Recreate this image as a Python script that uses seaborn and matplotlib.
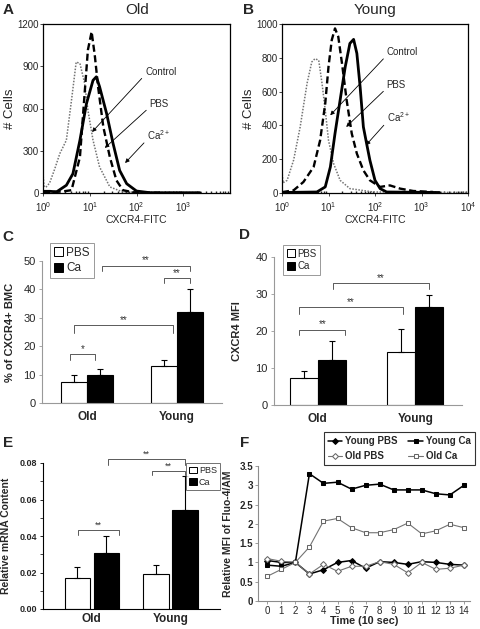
import matplotlib
matplotlib.use("Agg")
import matplotlib.pyplot as plt
from matplotlib.patches import Patch
import seaborn as sns
import numpy as np
import pandas as pd

sns.set_theme(style="ticks")
plt.rcParams['font.family'] = ['Liberation Sans', 'DejaVu Sans']
plt.rcParams['mathtext.default'] = 'regular'

# ---- A / B: flow histograms (log10 CXCR4-FITC intensity, # cells) ----
old_ctrl_log = [0.0, 0.02, 0.06, 0.14, 0.25, 0.36, 0.5, 0.61, 0.71, 0.79, 0.89, 0.96, 1.07, 1.21, 1.43, 1.71, 2.2, 3.4]
old_ctrl_cnt = [140, 50, 40, 70, 170, 280, 375, 660, 930, 920, 780, 590, 375, 185, 43, 7, 4, 4]
old_pbs_log = [0.0, 0.4, 0.61, 0.79, 0.89, 0.96, 1.04, 1.11, 1.18, 1.29, 1.43, 1.57, 1.71, 1.93, 2.5]
old_pbs_cnt = [5, 10, 20, 255, 705, 1015, 1145, 970, 750, 470, 255, 90, 20, 5, 2]
old_ca_log = [0.0, 0.15, 0.29, 0.5, 0.64, 0.79, 0.93, 1.07, 1.14, 1.21, 1.36, 1.5, 1.64, 1.79, 2.0, 2.29, 3.36]
old_ca_cnt = [12, 12, 8, 55, 137, 375, 635, 800, 825, 755, 565, 350, 160, 66, 14, 2, 2]

young_ctrl_log = [0.0, 0.02, 0.11, 0.25, 0.39, 0.54, 0.64, 0.71, 0.79, 0.86, 0.93, 1.0, 1.11, 1.25, 1.46, 1.96, 3.1, 4.0]
young_ctrl_cnt = [130, 60, 75, 195, 390, 650, 775, 795, 785, 650, 490, 312, 174, 75, 26, 6, 4, 3]
young_pbs_log = [0.0, 0.25, 0.46, 0.68, 0.82, 0.93, 1.0, 1.07, 1.14, 1.21, 1.29, 1.39, 1.5, 1.61, 1.75, 1.89, 2.11, 2.32, 2.54, 2.82, 3.25]
young_pbs_cnt = [5, 16, 65, 154, 312, 530, 747, 905, 974, 925, 767, 550, 352, 233, 134, 75, 36, 45, 26, 12, 6]
young_ca_log = [0.0, 0.75, 0.93, 1.04, 1.14, 1.25, 1.36, 1.46, 1.54, 1.61, 1.68, 1.75, 1.82, 1.89, 2.0, 2.11, 2.25, 3.39]
young_ca_cnt = [3, 6, 36, 154, 352, 550, 747, 885, 909, 826, 628, 391, 292, 194, 75, 26, 6, 3]

# ---- C / D / E: bar charts ----
groups = ['Old', 'Young']
c_pbs = [7.5, 13.0]
c_ca = [9.8, 32.0]
c_pbs_sd = [2.5, 2.2]
c_ca_sd = [2.2, 8.0]

d_pbs = [7.3, 14.3]
d_ca = [12.1, 26.4]
d_pbs_sd = [1.9, 6.2]
d_ca_sd = [5.2, 3.4]

e_pbs = [0.0168, 0.019]
e_ca = [0.0308, 0.0545]
e_pbs_sd = [0.006, 0.0053]
e_ca_sd = [0.0092, 0.0182]

# ---- F: calcium time course ----
time_pts = list(range(15))
young_pbs_f = [1.05, 1.0, 1.0, 0.70, 0.81, 1.0, 1.05, 0.85, 1.02, 1.0, 0.95, 1.02, 1.0, 0.95, 0.93]
young_ca_f = [0.93, 0.9, 1.0, 3.3, 3.05, 3.08, 2.9, 3.0, 3.03, 2.88, 2.88, 2.88, 2.78, 2.75, 3.0]
old_pbs_f = [1.1, 1.03, 1.0, 0.70, 0.95, 0.77, 0.90, 0.90, 1.02, 0.95, 0.73, 1.0, 0.82, 0.85, 0.93]
old_ca_f = [0.64, 0.82, 1.0, 1.4, 2.07, 2.14, 1.9, 1.77, 1.77, 1.85, 2.02, 1.74, 1.82, 1.99, 1.9]

fig = plt.figure(figsize=(4.8, 6.29), dpi=100)
W, H = 480, 629


def add_ax(left, top, right, bottom):
    # pixel box -> figure fraction
    return fig.add_axes([left / W, 1 - bottom / H, (right - left) / W, (bottom - top) / H])


def flow_panel(ax, curves, ymax, ystep, xticks, notes):
    for logs, cnts, style in curves:
        sns.lineplot(x=10 ** np.array(logs), y=cnts, ax=ax, sort=False, **style)
    ax.set_xscale('log')
    ax.set_xlim(1, 1e4)
    ax.set_ylim(0, ymax)
    ax.set_xticks(xticks)
    ax.set_yticks(np.arange(0, ymax + 1, ystep))
    ax.tick_params(labelsize=7, length=2, width=0.6, pad=1)
    ax.tick_params(axis='x', pad=3)
    ax.tick_params(axis='x', which='minor', length=1.5, direction='in')
    for sp in ax.spines.values():
        sp.set_linewidth(0.9)
        sp.set_color('black')
    ax.set_xlabel('CXCR4-FITC', fontsize=7.5, labelpad=1)
    ax.set_ylabel('# Cells', fontsize=9.5, labelpad=1)
    for txt, tx, ty, px, py in notes:
        ax.annotate(txt, xy=(px, py), xytext=(tx, ty), fontsize=7, ha='left', va='center',
                    arrowprops=dict(arrowstyle='-|>', color='black', lw=0.6, mutation_scale=6,
                                    shrinkA=0, shrinkB=0, relpos=(0.0, 0.2)))


ctrl_style = dict(color='0.45', lw=1.1, linestyle=(0, (1, 1)))
pbs_style = dict(color='black', lw=1.7, linestyle=(0, (3, 1.5)))
ca_style = dict(color='black', lw=2.0, linestyle='-')

axA = add_ax(43, 24, 230, 193)
flow_panel(axA, [(old_ctrl_log, old_ctrl_cnt, ctrl_style),
                 (old_pbs_log, old_pbs_cnt, pbs_style),
                 (old_ca_log, old_ca_cnt, ca_style)],
           1200, 300, [1, 10, 100, 1000],
           [('Control', 152, 860, 11.2, 433),
            ('PBS', 190, 630, 21, 320),
            ('Ca$^{2+}$', 170, 410, 57, 213)])

axB = add_ax(282, 24, 468, 193)
flow_panel(axB, [(young_ctrl_log, young_ctrl_cnt, ctrl_style),
                 (young_pbs_log, young_pbs_cnt, pbs_style),
                 (young_ca_log, young_ca_cnt, ca_style)],
           1000, 200, [1, 10, 100, 1000, 1e4],
           [('Control', 178, 832, 10.9, 460),
            ('PBS', 178, 638, 24, 391),
            ('Ca$^{2+}$', 182, 447, 64, 283)])

fig.text(137 / W, 1 - 10 / H, 'Old', fontsize=11, ha='center', va='center')
fig.text(375 / W, 1 - 10 / H, 'Young', fontsize=11, ha='center', va='center')


def bar_panel(ax, pbs, ca, pbs_sd, ca_sd, width, gap, spine_col):
    df = pd.DataFrame({'group': groups * 2,
                       'treat': ['PBS'] * 2 + ['Ca'] * 2,
                       'value': pbs + ca})
    sns.barplot(data=df, x='group', y='value', hue='treat', hue_order=['PBS', 'Ca'],
                palette={'PBS': 'white', 'Ca': 'black'}, edgecolor='black', linewidth=0.8,
                width=width, gap=gap, errorbar=None, legend=False, ax=ax)
    bars = sorted(ax.patches, key=lambda p: p.get_x())
    sds = [pbs_sd[0], ca_sd[0], pbs_sd[1], ca_sd[1]]
    for bar, sd in zip(bars, sds):
        xc = bar.get_x() + bar.get_width() / 2
        ax.errorbar(xc, bar.get_height(), yerr=[[0], [sd]], fmt='none', ecolor='black',
                    elinewidth=0.8, capsize=2.5, capthick=0.8)
    sns.despine(ax=ax)
    for sp in ('left', 'bottom'):
        ax.spines[sp].set_color(spine_col)
        ax.spines[sp].set_linewidth(0.8)
    ax.set_xlabel('')
    ax.tick_params(axis='x', length=0, pad=6)
    ax.tick_params(axis='y', length=2.5, width=0.6, color=spine_col, pad=2)


def bracket(ax, x1, x2, y, leg, text, fs=7, col='0.35'):
    ax.plot([x1, x1, x2, x2], [y - leg, y, y, y - leg], color=col, lw=0.7, clip_on=False)
    ax.text((x1 + x2) / 2, y, text, ha='center', va='bottom', fontsize=fs, color='0.2',
            clip_on=False)


def legend_boxes(ax, loc, anchor, fs, edge):
    handles = [Patch(facecolor='white', edgecolor='black', lw=0.7),
               Patch(facecolor='black', edgecolor='black', lw=0.7)]
    leg = ax.legend(handles, ['PBS', 'Ca'], loc=loc, bbox_to_anchor=anchor, fontsize=fs,
                    handlelength=0.8, handleheight=0.8, handletextpad=0.25, labelspacing=0.3,
                    borderpad=0.35, frameon=True, fancybox=False, borderaxespad=0)
    leg.get_frame().set_edgecolor(edge)
    leg.get_frame().set_linewidth(0.7)


# C
axC = add_ax(42, 261, 222, 403)
bar_panel(axC, c_pbs, c_ca, c_pbs_sd, c_ca_sd, 0.57, 0, '0.6')
axC.set_xlim(-0.5, 1.5)
axC.set_ylim(0, 50)
axC.set_yticks(range(0, 51, 10))
axC.tick_params(axis='y', labelsize=8)
axC.tick_params(axis='x', labelsize=8.5)
for lab in axC.get_xticklabels():
    lab.set_fontweight('bold')
axC.set_ylabel('% of CXCR4+ BMC', fontsize=8, fontweight='bold')
axC.yaxis.set_label_coords(-0.15, 0.5)
bracket(axC, -0.19, 0.09, 17.3, 2.2, '*')
bracket(axC, -0.14, 0.95, 27.4, 2.6, '**')
bracket(axC, 0.85, 1.14, 44.1, 2.0, '**')
bracket(axC, 0.17, 1.14, 48.4, 2.0, '**')
legend_boxes(axC, 'upper left', (0.044, 1.13), 8.5, '0.5')

# D
axD = add_ax(274, 257, 462, 405)
bar_panel(axD, d_pbs, d_ca, d_pbs_sd, d_ca_sd, 0.58, 0, '0.6')
axD.set_xlim(-0.45, 1.48)
axD.set_ylim(0, 40)
axD.set_yticks(range(0, 41, 10))
axD.tick_params(axis='y', labelsize=8)
axD.tick_params(axis='x', labelsize=8.5)
for lab in axD.get_xticklabels():
    lab.set_fontweight('bold')
axD.set_ylabel('CXCR4 MFI', fontsize=8, fontweight='bold')
axD.yaxis.set_label_coords(-0.17, 0.5)
bracket(axD, -0.19, 0.28, 20.4, 1.6, '**')
bracket(axD, -0.19, 0.87, 26.5, 1.9, '**')
bracket(axD, 0.16, 1.14, 33.0, 1.6, '**')
legend_boxes(axD, 'upper left', (0.05, 1.08), 7, '0.5')

# E
axE = add_ax(43, 463, 220, 609)
bar_panel(axE, e_pbs, e_ca, e_pbs_sd, e_ca_sd, 0.74, 0.13, 'black')
axE.set_xlim(-0.62, 1.63)
axE.set_ylim(0, 0.08)
axE.set_yticks(np.arange(0, 0.081, 0.02))
axE.set_yticks(np.arange(0.01, 0.08, 0.02), minor=True)
axE.tick_params(axis='y', which='both', length=2.5, width=0.6, labelsize=6.5)
axE.yaxis.set_major_formatter(matplotlib.ticker.FormatStrFormatter('%.2f'))
axE.tick_params(axis='x', labelsize=8.5, pad=3)
for lab in axE.get_xticklabels() + axE.get_yticklabels():
    lab.set_fontweight('bold')
axE.set_ylabel('Relative mRNA Content', fontsize=7.5, fontweight='bold')
axE.yaxis.set_label_coords(-0.18, 0.5)
bracket(axE, -0.17, 0.34, 0.0434, 0.0028, '**', fs=6.5)
bracket(axE, 0.76, 1.18, 0.0758, 0.0026, '**', fs=6.5)
bracket(axE, 0.21, 1.18, 0.0822, 0.0032, '**', fs=6.5)
legend_boxes(axE, 'upper right', (1.0, 1.0), 6.5, '0.3')

# F
axF = add_ax(258, 466, 470, 601)
series_f = [('Young PBS', young_pbs_f, dict(color='black', lw=1.1, marker='D', markersize=3,
                                            markerfacecolor='black', markeredgecolor='black')),
            ('Old PBS', old_pbs_f, dict(color='0.45', lw=0.8, marker='D', markersize=3,
                                        markerfacecolor='white', markeredgecolor='0.4')),
            ('Young Ca', young_ca_f, dict(color='black', lw=1.1, marker='s', markersize=3.5,
                                          markerfacecolor='black', markeredgecolor='black')),
            ('Old Ca', old_ca_f, dict(color='0.45', lw=0.8, marker='s', markersize=3.5,
                                      markerfacecolor='white', markeredgecolor='0.4'))]
for name, vals, style in series_f:
    sns.lineplot(x=time_pts, y=vals, ax=axF, label=name, **style)
axF.set_xlim(-0.66, 14.43)
axF.set_ylim(0, 3.5)
axF.set_xticks(time_pts)
axF.set_yticks(np.arange(0, 3.51, 0.5))
axF.set_yticklabels(['0', '0.5', '1', '1.5', '2', '2.5', '3', '3.5'])
sns.despine(ax=axF)
for sp in ('left', 'bottom'):
    axF.spines[sp].set_color('0.55')
    axF.spines[sp].set_linewidth(0.8)
axF.tick_params(axis='both', labelsize=7, length=2, width=0.6, color='0.55', pad=1.5)
axF.set_xlabel('Time (10 sec)', fontsize=7.8, fontweight='bold', labelpad=0)
axF.set_ylabel('Relative MFI of Fluo-4/AM', fontsize=7.5, fontweight='bold')
axF.yaxis.set_label_coords(-0.12, 0.5)
for lab in axF.get_yticklabels():
    lab.set_fontweight('bold')
legF = axF.legend(loc='upper left', bbox_to_anchor=(0.31, 1.25), ncol=2,
                  prop={'weight': 'bold', 'size': 7}, handlelength=1.5, handletextpad=0.3,
                  columnspacing=1.1, labelspacing=0.5, borderpad=0.4, frameon=True,
                  fancybox=False, borderaxespad=0)
legF.get_frame().set_edgecolor('black')
legF.get_frame().set_linewidth(0.8)

# panel letters
for letter, px, py in [('A', 8, 10), ('B', 248, 10), ('C', 8, 237), ('D', 245, 235),
                       ('E', 8, 443), ('F', 245, 443)]:
    fig.text(px / W, 1 - py / H, letter, fontsize=11, fontweight='bold', ha='center', va='center')

fig.savefig('out.png', dpi=100)
